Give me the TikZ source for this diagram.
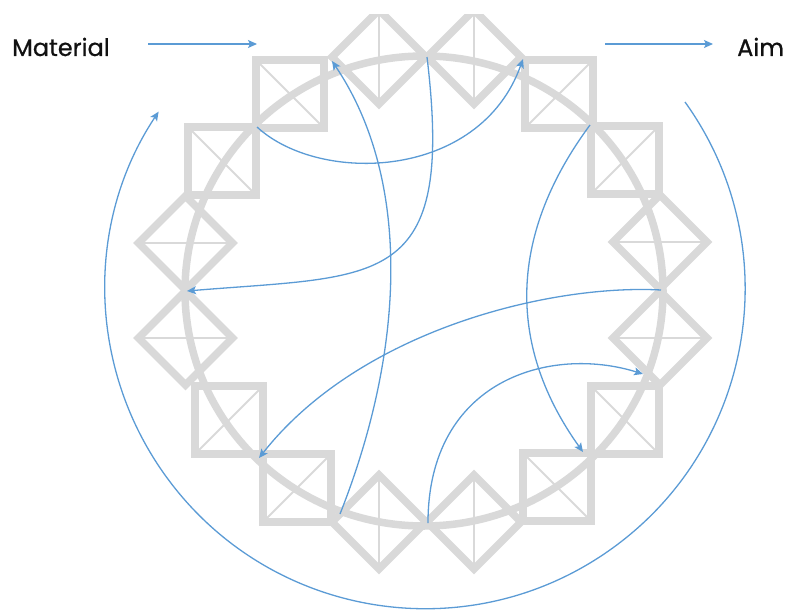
\documentclass[tikz,border=0pt]{standalone}
\usepackage{fontspec}
\setmainfont{Poppins}
\newfontfamily\lblfont{Poppins}[FakeBold=0.7]
\usetikzlibrary{arrows.meta}
\definecolor{lg}{HTML}{D9D9D9}
\definecolor{bl}{HTML}{5B9BD5}
\definecolor{txt}{HTML}{111111}
\newcommand\mysqBS[2]{\draw[gthin] (#1-34,#2-34) -- (#1+34,#2+34);\draw[gthick] (#1-34,#2-34) rectangle (#1+34,#2+34);}
\newcommand\mysqSL[2]{\draw[gthin] (#1-34,#2+34) -- (#1+34,#2-34);\draw[gthick] (#1-34,#2-34) rectangle (#1+34,#2+34);}
\newcommand\mydmV[2]{\draw[gthin] (#1,#2-47) -- (#1,#2+47);\draw[gthick] (#1,#2-47) -- (#1+47,#2) -- (#1,#2+47) -- (#1-47,#2) -- cycle;}
\newcommand\mydmH[2]{\draw[gthin] (#1-47,#2) -- (#1+47,#2);\draw[gthick] (#1,#2-47) -- (#1+47,#2) -- (#1,#2+47) -- (#1-47,#2) -- cycle;}
\begin{document}
\begin{tikzpicture}[x=1pt,y=-1pt,
  gthick/.style={draw=lg,line width=7.5pt,line join=miter},
  gthin/.style={draw=lg,line width=2pt},
  barrow/.style={draw=bl,line width=1.3pt,-{Stealth[length=9pt,width=8pt,inset=2pt]}},
  lbl/.style={anchor=base west,inner sep=0pt,font=\lblfont\fontsize{24}{28}\selectfont,text=txt}]
\useasboundingbox (0,0) rectangle (787,610);
% gray frame
\begin{scope}
\clip (0,15) rectangle (787,610);
\mysqBS{290}{94}
\mysqBS{222}{161}
\mysqSL{229}{420}
\mysqSL{297}{488}
\mysqBS{557}{487}
\mysqBS{625}{420}
\mysqSL{625}{160}
\mysqSL{559}{94}
\mydmV{379}{57}
\mydmV{474}{57}
\mydmV{379}{522}
\mydmV{474}{522}
\mydmH{185.5}{243}
\mydmH{185.5}{338}
\mydmH{660}{242}
\mydmH{660}{338}
\draw[gthick] (424,291) ellipse[x radius=239,y radius=235];
\end{scope}
% labels
\node[lbl] (mat) at (12,56) {Material};
\node[lbl] (aim) at (737,56) {Aim};
\coordinate (mA) at (148,44); \coordinate (mB) at (257,44);
\coordinate (aA) at (605,44); \coordinate (aB) at (713,44);
\draw[barrow] (mA) -- (mB);
\draw[barrow] (aA) -- (aB);
% outer arc
\coordinate (bigS) at (685,102);
\draw[barrow] (bigS) arc[start angle=-35.7,end angle=213.6,radius=320];
% inner points
\coordinate (pTL) at (257,127);
\coordinate (pTopR) at (523,59);
\coordinate (pTop) at (427,57);
\coordinate (pL) at (187,291);
\coordinate (pBotL) at (340,514);
\coordinate (pTopL) at (332,61);
\coordinate (pR) at (661,290);
\coordinate (pBL) at (259,458);
\coordinate (pR2) at (590,125);
\coordinate (pBR) at (583,452);
\coordinate (pBot) at (428,523);
\coordinate (pRL) at (643,374);
\draw[barrow] (pTL) .. controls (320,185) and (480,180) .. (pTopR);
\draw[barrow] (pTop) .. controls (455,290) and (380,275) .. (pL);
\draw[barrow] (pBotL) .. controls (405,350) and (412,180) .. (pTopL);
\draw[barrow] (pR) .. controls (550,284) and (360,330) .. (pBL);
\draw[barrow] (pR2) .. controls (505,240) and (510,350) .. (pBR);
\draw[barrow] (pBot) .. controls (428,380) and (550,345) .. (pRL);
\end{tikzpicture}
\end{document}
